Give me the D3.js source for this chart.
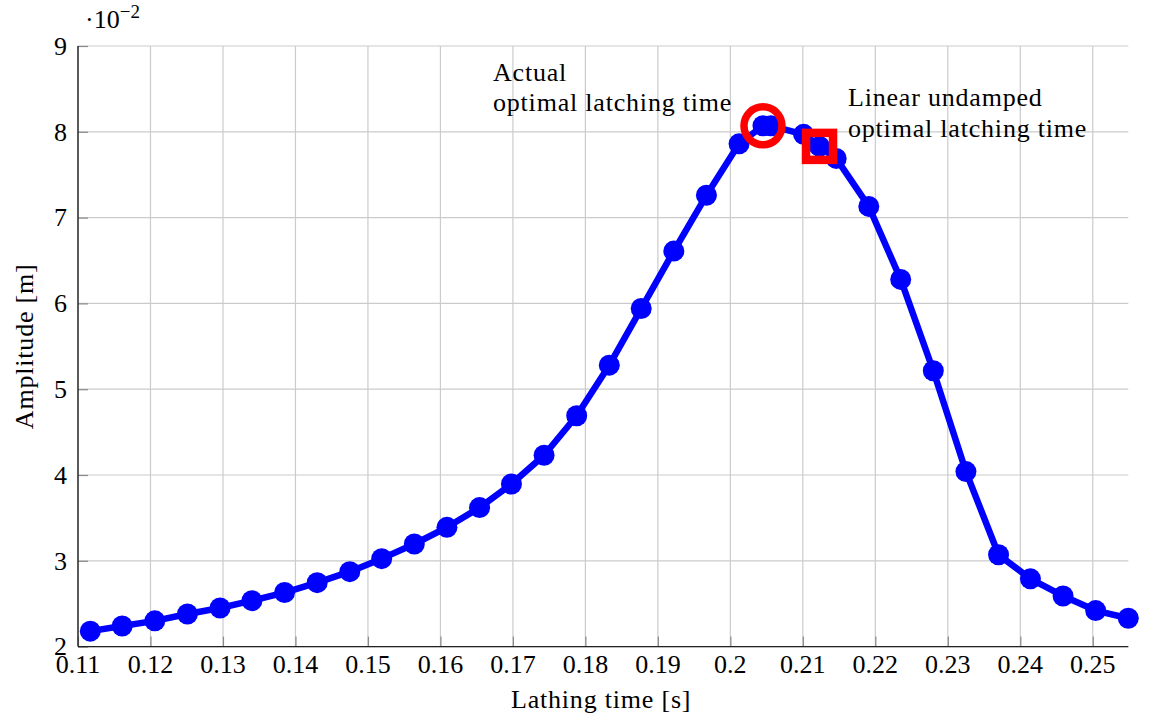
<!DOCTYPE html>
<html>
<head>
<meta charset="utf-8">
<script src="https://cdn.jsdelivr.net/npm/d3@7"></script>
<style>
  body { margin: 0; background: #fff; }
  svg { display: block; font-family: "Liberation Serif", "DejaVu Serif", serif; }
</style>
</head>
<body>
<svg id="chart" width="1152" height="720"></svg>
<script>
// ---- data (amplitude in units of 1e-2 m) ----
const latchTime = [0.1117, 0.1161, 0.1206, 0.1251, 0.1296, 0.1340, 0.1385, 0.1430, 0.1475, 0.1519,
                   0.1564, 0.1609, 0.1654, 0.1698, 0.1743, 0.1788, 0.1833, 0.1877, 0.1922, 0.1967,
                   0.2012, 0.2045, 0.2056, 0.2101, 0.2123, 0.2146, 0.2191, 0.2235, 0.2280, 0.2325,
                   0.2370, 0.2414, 0.2459, 0.2504, 0.2549];
const amplitude = [2.18, 2.24, 2.30, 2.38, 2.45, 2.535, 2.63, 2.745, 2.873, 3.025,
                   3.196, 3.39, 3.62, 3.895, 4.23, 4.69, 5.28, 5.94, 6.61, 7.26,
                   7.86, 8.07, 8.07, 7.97, 7.83, 7.69, 7.13, 6.28, 5.215, 4.04,
                   3.07, 2.79, 2.59, 2.42, 2.33];
const actualOptimum = [0.2045, 8.07];
const linearOptimum = [0.2123, 7.83];
const xTicks = [0.11, 0.12, 0.13, 0.14, 0.15, 0.16, 0.17, 0.18, 0.19, 0.2, 0.21, 0.22, 0.23, 0.24, 0.25];
const yTicks = [2, 3, 4, 5, 6, 7, 8, 9];
const xLabel = "Lathing time [s]";
const yLabel = "Amplitude [m]";
const actualLabel = ["Actual", "optimal latching time"];
const linearLabel = ["Linear undamped", "optimal latching time"];

// ---- layout ----
const svg = d3.select("#chart");
const L = 78, R = 1128.3, T = 46, B = 646.6;
const x = d3.scaleLinear().domain([0.11, 0.2549]).range([L, R]);
const y = d3.scaleLinear().domain([2, 9]).range([B, T]);
const fs = 26;

// grid
const grid = svg.append("g");
grid.selectAll("line.v").data(xTicks).join("line")
  .attr("x1", d => x(d)).attr("x2", d => x(d)).attr("y1", T).attr("y2", B)
  .attr("stroke", "#cbcbcb").attr("stroke-width", 1.2);
grid.selectAll("line.h").data(yTicks).join("line")
  .attr("x1", L).attr("x2", R).attr("y1", d => y(d)).attr("y2", d => y(d))
  .attr("stroke", "#cbcbcb").attr("stroke-width", 1.2);

// axes (ticks inside, gray)
const xAxis = d3.axisTop(x).tickValues(xTicks).tickSize(10).tickFormat("");
const gx = svg.append("g").attr("transform", `translate(0,${B})`).call(xAxis);
gx.select(".domain").remove();
gx.selectAll(".tick line").attr("stroke", "#8a8a8a").attr("stroke-width", 1.2);

const yAxis = d3.axisRight(y).tickValues(yTicks).tickSize(10).tickFormat("");
const gy = svg.append("g").attr("transform", `translate(${L},0)`).call(yAxis);
gy.select(".domain").remove();
gy.selectAll(".tick line").attr("stroke", "#8a8a8a").attr("stroke-width", 1.2);

// tick labels
svg.append("g").selectAll("text").data(xTicks).join("text")
  .attr("x", d => x(d)).attr("y", 673)
  .attr("text-anchor", "middle").attr("font-size", fs).attr("fill", "#000")
  .text(d => d3.format("")(d));
svg.append("g").selectAll("text").data(yTicks).join("text")
  .attr("x", 67).attr("y", d => y(d)).attr("dy", "0.34em")
  .attr("text-anchor", "end").attr("font-size", fs).attr("fill", "#000")
  .text(d => d);

// axis lines (left + bottom)
svg.append("line").attr("x1", L).attr("x2", L).attr("y1", T).attr("y2", B)
  .attr("stroke", "#222").attr("stroke-width", 1.4);
svg.append("line").attr("x1", L).attr("x2", R).attr("y1", B).attr("y2", B)
  .attr("stroke", "#222").attr("stroke-width", 1.4);

// scale label
const sl = svg.append("text").attr("x", 85).attr("y", 28).attr("font-size", fs).attr("fill", "#000");
sl.append("tspan").text("·10");
sl.append("tspan").attr("dy", -10).attr("font-size", 19).text("−2");

// axis labels
svg.append("text").attr("x", (L + R) / 2 - 2).attr("y", 708).attr("text-anchor", "middle")
  .attr("font-size", fs).attr("letter-spacing", 0.8).text(xLabel);
svg.append("text").attr("transform", `translate(33,${(T + B) / 2}) rotate(-90)`)
  .attr("text-anchor", "middle").attr("font-size", fs).attr("letter-spacing", 0.8).text(yLabel);

// data line + markers
const pts = latchTime.map((t, i) => [t, amplitude[i]]);
svg.append("path").datum(pts)
  .attr("d", d3.line().x(d => x(d[0])).y(d => y(d[1])))
  .attr("fill", "none").attr("stroke", "#0000ff").attr("stroke-width", 6.5)
  .attr("stroke-linejoin", "round");
svg.append("g").selectAll("circle").data(pts).join("circle")
  .attr("cx", d => x(d[0])).attr("cy", d => y(d[1])).attr("r", 10.5)
  .attr("fill", "#0000ff");

// highlight markers
svg.append("circle").attr("cx", x(actualOptimum[0])).attr("cy", y(actualOptimum[1]))
  .attr("r", 19).attr("fill", "none").attr("stroke", "#ff0000").attr("stroke-width", 7.5);
const sq = 27;
svg.append("rect").attr("x", x(linearOptimum[0]) - sq / 2).attr("y", y(linearOptimum[1]) - sq / 2)
  .attr("width", sq).attr("height", sq)
  .attr("fill", "none").attr("stroke", "#ff0000").attr("stroke-width", 8.5);

// annotations
const a1 = svg.append("text").attr("font-size", fs).attr("letter-spacing", 0.8);
a1.selectAll("tspan").data(actualLabel).join("tspan")
  .attr("x", 493).attr("y", (d, i) => 81 + i * 30).text(d => d);
const a2 = svg.append("text").attr("font-size", fs).attr("letter-spacing", 0.8);
a2.selectAll("tspan").data(linearLabel).join("tspan")
  .attr("x", 848).attr("y", (d, i) => 106 + i * 31).text(d => d);
</script>
</body>
</html>
